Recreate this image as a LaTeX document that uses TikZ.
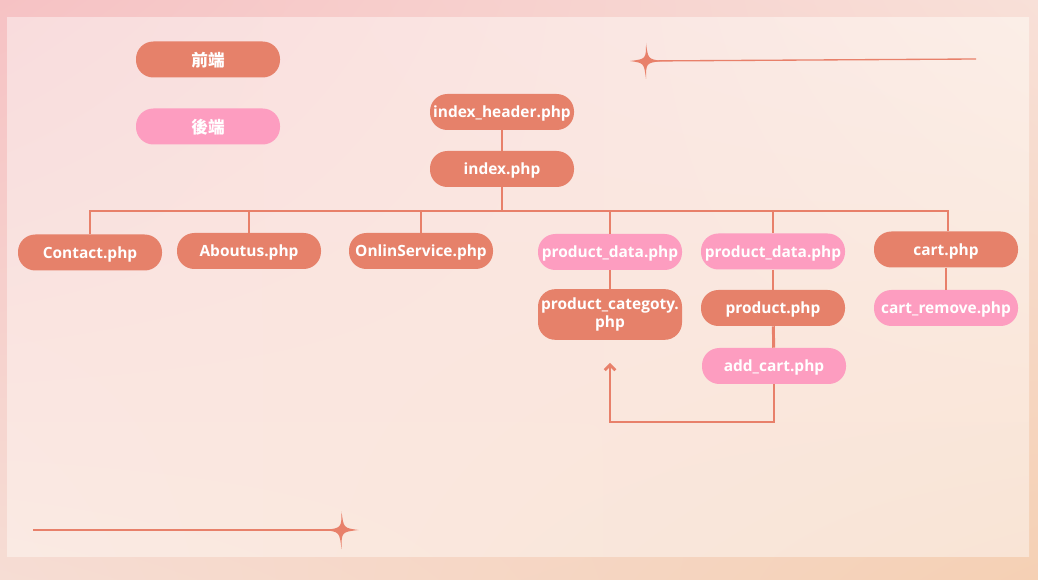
\documentclass[tikz,border=0pt]{standalone}
\usepackage{fontspec}
\setmainfont{Open Sans}
\newfontfamily\cjkfont{Noto Sans CJK TC}
\usepackage{tikz}
\usetikzlibrary{arrows.meta,positioning,calc,shadings}
\definecolor{front}{HTML}{E6816A}
\definecolor{back}{HTML}{FD9DC0}
\definecolor{wire}{HTML}{E8806A}
\definecolor{bgTL}{HTML}{F6C2C4}
\definecolor{bgTR}{HTML}{F8E0D8}
\definecolor{bgBL}{HTML}{F6DDD4}
\definecolor{bgBR}{HTML}{F5D0B4}
\definecolor{pnTL}{HTML}{F9DCDD}
\definecolor{pnTR}{HTML}{FBEEE7}
\definecolor{pnBL}{HTML}{FAEAE3}
\definecolor{pnBR}{HTML}{F9E4D5}

\begin{document}
\begin{tikzpicture}[
  x=0.75pt, y=-0.75pt,
  file/.style={rectangle, rounded corners=13pt, fill=front, text=white,
    minimum height=27pt, minimum width=108pt, inner sep=1pt, text depth=0pt,
    font=\bfseries\fontsize{11.6}{12.5}\selectfont, align=center},
  srv/.style={file, fill=back},
  link/.style={wire, line width=2.2pt},
  arr/.style={link, -{Straight Barb[length=4pt, width=8pt]}},
  deco/.style={wire, line width=1pt},
  sparkle/.style={fill=wire},
]
  % background
  \shade[upper left=bgTL, upper right=bgTR, lower left=bgBL, lower right=bgBR]
    (0,0) rectangle (1038,580);
  \shade[upper left=pnTL, upper right=pnTR, lower left=pnBL, lower right=pnBR]
    (7,18) rectangle (1029,556);

  % legend
  \node[file] (legfront) at (208,59.5) {\cjkfont\fontsize{12.5}{13}\selectfont 前端};
  \node[srv] (legback) at (208,126.5) {\cjkfont\fontsize{12.5}{13}\selectfont 後端};

  % tree
  \node[file] (header) at (502,112) {index\_header.php};
  \node[file] (index) at (502,169) {index.php};
  \coordinate (bus) at (502,211);

  \node[file] (contact) at (90,252.5) {Contact.php};
  \node[file] (about) at (249,251) {Aboutus.php};
  \node[file] (online) at (421,251) {OnlinService.php};
  \node[srv] (pdataA) at (610,252) {product\_data.php};
  \node[file, minimum height=38pt, text depth=] (prodcat) at (610,314.5) {product\_categoty.\\[1pt]php};
  \node[srv] (pdataB) at (773,251.5) {product\_data.php};
  \node[file] (product) at (773,308) {product.php};
  \node[srv] (addcart) at (774,366) {add\_cart.php};
  \node[file] (cart) at (946,249.5) {cart.php};
  \node[srv] (cartrm) at (946,308) {cart\_remove.php};

  \draw[link] (header) -- (index);
  \draw[link] (index) -- (bus);
  \draw[link] (contact.north) |- (bus);
  \draw[link] (about.north) |- (bus);
  \draw[link] (online.north) |- (bus);
  \draw[link] (pdataA.north) |- (bus);
  \draw[link] (pdataB.north) |- (bus);
  \draw[link] ($(cart.north)+(2,0)$) |- (bus);
  \draw[link] (pdataA) -- (prodcat);
  \draw[link] (pdataB) -- (product);
  \draw[link] (product) -- (addcart);
  \draw[link] (cart) -- (cartrm);

  \coordinate (turn) at (774,422);
  \draw[arr, shorten >=17pt] (addcart.south) -- (turn) -| (prodcat.south);

  % sparkles
  \coordinate (sparkA) at (646,61);
  \coordinate (sparkB) at (341.5,530);
  \draw[deco] (sparkA) -- (976,59);
  \draw[deco] (33,530) -- (sparkB);
  \fill[sparkle] (sparkA) ++(0,-18) .. controls ++(2,16) .. ++(16,18)
    .. controls ++(-16,2) .. ++(-16,18) .. controls ++(-2,-16) .. ++(-16,-18)
    .. controls ++(16,-2) .. cycle;
  \fill[sparkle] (sparkB) ++(0,-19) .. controls ++(2,17) .. ++(17,19)
    .. controls ++(-17,2) .. ++(-17,19) .. controls ++(-2,-17) .. ++(-17,-19)
    .. controls ++(17,-2) .. cycle;
\end{tikzpicture}
\end{document}
